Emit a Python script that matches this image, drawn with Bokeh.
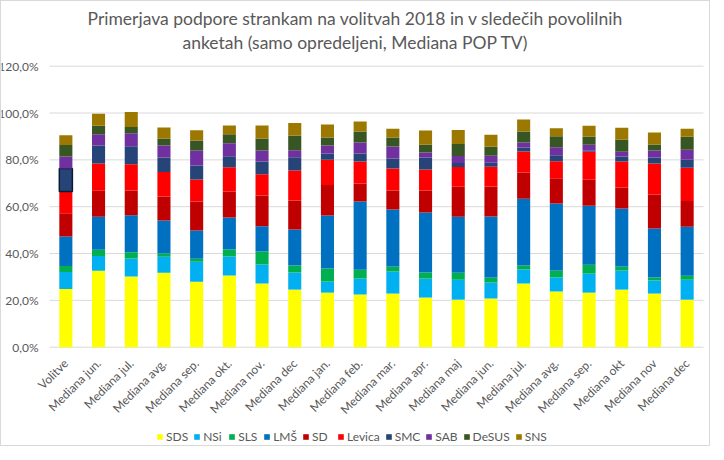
from math import pi
import numpy as np
from bokeh.plotting import figure
from bokeh.models import (Range1d, Legend, LegendItem, ColumnDataSource)
from bokeh.core.properties import value
from bokeh.embed import file_html
from bokeh.resources import INLINE

categories = ["Volitve", "Mediana jun.", "Mediana jul.", "Mediana avg.", "Mediana sep.",
              "Mediana okt.", "Mediana nov.", "Mediana dec", "Mediana jan.", "Mediana feb.",
              "Mediana mar.", "Mediana apr.", "Mediana maj", "Mediana jun.", "Mediana jul.",
              "Mediana avg.", "Mediana sep.", "Mediana okt", "Mediana nov", "Mediana dec"]

SDS = [24.9, 32.6, 30.2, 31.8, 28.0, 30.6, 27.2, 24.6, 23.3, 22.5, 22.9, 21.2, 20.3, 20.8, 27.2, 23.8, 23.3, 24.6, 22.9, 20.3]
NSi = [7.2, 6.4, 7.7, 6.8, 8.5, 8.1, 8.1, 7.3, 4.7, 6.8, 9.4, 8.1, 8.5, 6.8, 6.0, 6.0, 8.1, 8.1, 5.6, 8.5]
SLS = [2.6, 2.6, 2.6, 1.4, 1.3, 3.0, 5.6, 3.0, 5.6, 3.8, 2.1, 2.6, 3.0, 2.1, 1.7, 3.0, 3.8, 1.7, 1.3, 1.7]
LMS = [12.6, 14.1, 15.8, 14.1, 12.0, 13.7, 10.7, 15.4, 22.6, 29.1, 24.4, 25.6, 23.9, 26.1, 28.5, 28.6, 25.2, 24.8, 20.9, 20.9]
SD = [9.9, 11.1, 10.6, 10.3, 12.4, 11.1, 13.2, 12.3, 13.1, 7.7, 8.1, 9.4, 12.8, 12.8, 11.2, 10.7, 11.1, 9.0, 14.5, 11.0]
Levica = [9.3, 11.7, 11.2, 10.4, 9.4, 10.3, 9.1, 12.9, 10.8, 9.4, 9.4, 9.0, 8.5, 8.5, 9.0, 7.3, 12.0, 11.1, 13.2, 14.2]
SMC = [9.8, 7.6, 7.7, 6.2, 6.0, 4.7, 5.4, 5.6, 2.6, 3.4, 4.3, 5.1, 1.7, 1.7, 1.7, 2.6, 0.4, 2.1, 2.6, 3.4]
SAB = [5.1, 4.8, 5.6, 5.1, 6.4, 5.6, 4.7, 3.0, 3.4, 4.7, 5.1, 2.1, 3.0, 3.0, 2.1, 3.4, 2.6, 2.1, 3.0, 4.3]
DeSUS = [4.9, 3.7, 2.6, 3.0, 4.3, 3.8, 5.1, 6.3, 3.4, 4.7, 3.8, 3.4, 5.1, 3.8, 4.7, 4.7, 3.4, 5.1, 2.6, 5.6]
SNS = [4.2, 5.1, 6.4, 4.7, 4.3, 3.8, 5.6, 5.3, 5.6, 4.3, 3.8, 6.0, 6.0, 5.1, 5.1, 3.4, 4.7, 5.1, 5.1, 3.4]

party_names = ["SDS", "NSi", "SLS", "LMŠ", "SD", "Levica", "SMC", "SAB", "DeSUS", "SNS"]
party_values = [SDS, NSi, SLS, LMS, SD, Levica, SMC, SAB, DeSUS, SNS]
party_colors = ["#FFFF00", "#00B0F0", "#00B050", "#0070C0", "#C00000", "#FF0000",
                "#264478", "#7030A0", "#375623", "#9C7800"]

y_ticks = [0, 20, 40, 60, 80, 100, 120]
y_tick_labels = ["0,0%", "20,0%", "40,0%", "60,0%", "80,0%", "100,0%", "120,0%"]

title_lines = ["Primerjava podpore strankam na volitvah 2018 in v sledečih povolilnih",
               "anketah (samo opredeljeni, Mediana POP TV)"]

FONT = "Lato"
GRAY = "#595959"

# layout (pixels)
FIG_W, FIG_H = 708, 444
PLOT_W = 654                         # width of the bar area
LEFT_PAD_PX, RIGHT_PAD_PX = 48, 6    # room for y labels / right margin
PX_PER_UNIT = 281 / 120.0            # 0..120 % spans 281 px
TOP_PAD_PX = 64.7                    # space above 120 % for the title
N = len(categories)
CAT_PX = PLOT_W / N
X_START = -0.5 - LEFT_PAD_PX / CAT_PX
X_END = N - 0.5 + RIGHT_PAD_PX / CAT_PX
Y_END = 120 + TOP_PAD_PX / PX_PER_UNIT
Y_START = Y_END - FIG_H / PX_PER_UNIT

x = list(range(N))

p = figure(frame_width=FIG_W, frame_height=FIG_H, output_backend="svg",
           toolbar_location=None, x_axis_location=None, y_axis_location=None,
           x_range=Range1d(X_START, X_END), y_range=Range1d(Y_START, Y_END),
           min_border_left=0, min_border_right=0, min_border_top=0, min_border_bottom=0)
p.styles = {"border": "1px solid #D9D9D9"}
p.xgrid.grid_line_color = None
p.ygrid.grid_line_color = None
p.outline_line_color = None

# horizontal gridlines across the bar area
p.segment(x0=[-0.5] * len(y_ticks), x1=[N - 0.5] * len(y_ticks), y0=y_ticks, y1=y_ticks,
          line_color="#D9D9D9", line_width=1)

# y tick labels
p.text(x=[-0.5] * len(y_ticks), y=y_ticks, text=y_tick_labels, x_offset=-11,
       text_align="right", text_baseline="middle",
       text_font=value(FONT), text_font_size="12px", text_color=GRAY)

bottom = np.zeros(N)
renderers = []
for name, vals, col in zip(party_names, party_values, party_colors):
    vals = np.array(vals)
    src = ColumnDataSource(dict(x=x, bottom=bottom.copy(), top=bottom + vals))
    r = p.vbar(x="x", bottom="bottom", top="top", width=0.4, source=src,
               fill_color=col, line_color=None)
    renderers.append((name, r))
    if name == "SMC":
        sel = ColumnDataSource(dict(x=x[:1], bottom=bottom[:1].copy(), top=(bottom + vals)[:1]))
        p.vbar(x="x", bottom="bottom", top="top", width=0.4, source=sel,
               fill_color=None, line_color="#0D1A33", line_width=1.5)
    bottom = bottom + vals

# category labels, rotated, hanging below the 0 % line
p.text(x=x, y=[0] * N, text=categories, angle=pi / 4,
       text_align="right", text_baseline="middle", x_offset=0, y_offset=14,
       text_font=value(FONT), text_font_size="12px", text_color=GRAY)

# two-line centred title
x_mid = (N - 1) / 2.0
p.text(x=[x_mid, x_mid], y=[Y_END, Y_END], text=title_lines,
       x_offset=-21, y_offset=[17, 41], text_align="center", text_baseline="middle",
       text_font=value(FONT), text_font_size="17.5px", text_color=GRAY)

legend = Legend(items=[LegendItem(label=n, renderers=[r]) for n, r in renderers],
                orientation="horizontal", location=(155, 1),
                label_text_font=FONT, label_text_font_size="12px", label_text_color=GRAY,
                glyph_width=7, glyph_height=7, label_standoff=3, spacing=5,
                border_line_color=None, background_fill_alpha=0, padding=2, margin=0)
p.add_layout(legend, "center")

open("out.html", "w").write(file_html(p, INLINE))
